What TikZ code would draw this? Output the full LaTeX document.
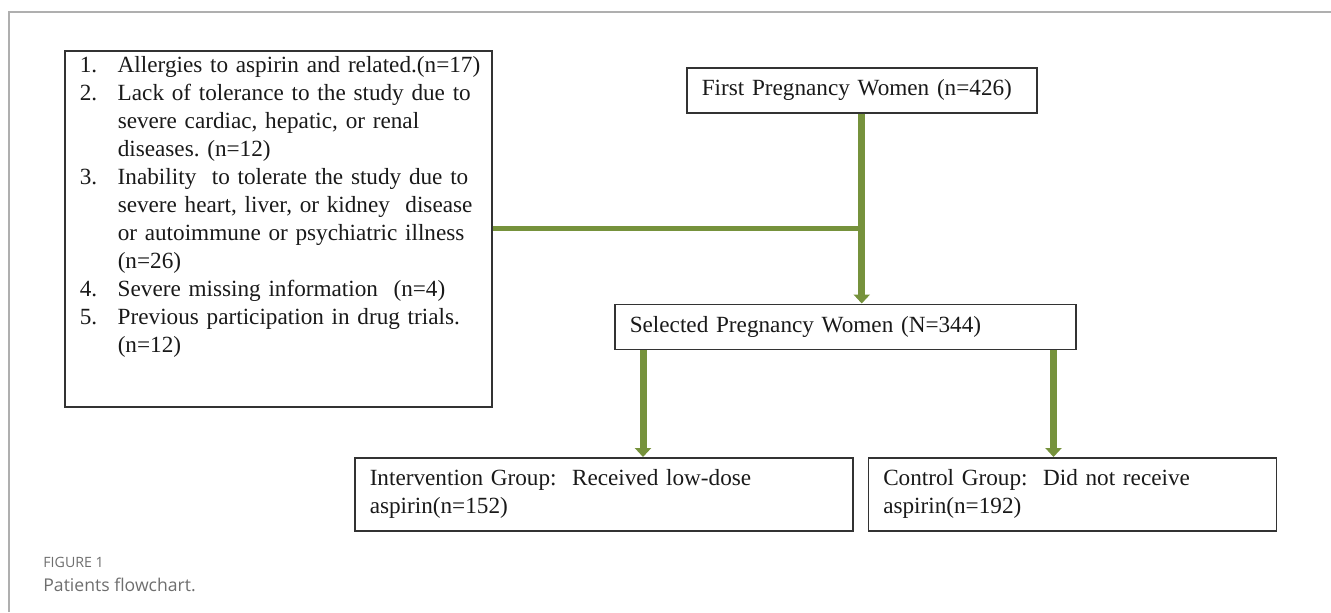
\documentclass[tikz,border=0pt]{standalone}
\usepackage{fontspec}
\setmainfont{Liberation Serif}
\newfontfamily\captionfont{Open Sans}
\usetikzlibrary{arrows.meta, positioning}
\definecolor{arrowgreen}{RGB}{118,146,60}
\definecolor{framegray}{RGB}{175,175,175}
\definecolor{captiongray}{RGB}{110,110,110}

\begin{document}
\begin{tikzpicture}[
    x=0.5pt, y=-0.5pt,
    node distance=7pt,
    block/.style={rectangle, draw=black!80, line width=0.75pt, text=black!90, inner xsep=7.5pt, align=left, minimum height=22.5pt, font=\fontsize{11.6}{14}\selectfont\frenchspacing},
    arrow/.style={-{Triangle[length=4.5pt, width=8pt]}, line width=3.5pt, draw=arrowgreen},
    link/.style={line width=2.5pt, draw=arrowgreen},
    caption/.style={anchor=base west, inner sep=0pt, text=captiongray}
]
    \useasboundingbox (0,0) rectangle (1331,612);
    \draw[framegray, line width=0.75pt] (9,612) -- (9,12) -- (1331,12);

    \node[block, anchor=north west, text width=198.5pt, inner ysep=3pt] (excl) at (64,50) {\makebox[19pt][l]{1.}\mbox{Allergies to aspirin and related.(n=17)}\\
        \makebox[19pt][l]{2.}Lack of tolerance to the study due to\\
        \hspace*{19pt}severe cardiac, hepatic, or renal\\
        \hspace*{19pt}diseases. (n=12)\\
        \makebox[19pt][l]{3.}Inability~ to tolerate the study due to\\
        \hspace*{19pt}severe heart, liver, or kidney~ disease\\
        \hspace*{19pt}or autoimmune or psychiatric illness\\
        \hspace*{19pt}(n=26)\\
        \makebox[19pt][l]{4.}Severe missing information~ (n=4)\\
        \makebox[19pt][l]{5.}Previous participation in drug trials.\\
        \hspace*{19pt}(n=12)\rule[-24pt]{0pt}{24pt}};
    \node[block, anchor=north west, text width=160pt] (first) at (686,67) {First Pregnancy Women (n=426)};
    \node[block, below=95pt of first, xshift=-8.25pt, text width=215.5pt] (sel) {Selected Pregnancy Women (N=344)};
    \node[block, below=53.5pt of sel.south west, anchor=north west, xshift=-130pt, text width=234pt, minimum height=36.5pt] (int) {Intervention Group:~ Received low-dose\\ aspirin(n=152)};
    \node[block, right=7pt of int, text width=189pt, minimum height=36.5pt] (ctrl) {Control Group:~ Did not receive\\ aspirin(n=192)};

    \draw[link] (excl.east) -- (excl.east -| first.south);
    \draw[arrow] (first.south) -- (sel.north -| first.south);
    \draw[arrow] ([xshift=14.5pt]sel.south west) -- ([xshift=14.5pt]sel.south west |- int.north);
    \draw[arrow] ([xshift=-11.5pt]sel.south east) -- ([xshift=-11.5pt]sel.south east |- ctrl.north);

    \node[caption, font=\captionfont\fontsize{7.1}{8}\selectfont] (figno) at (43,567) {FIGURE 1};
    \node[caption, font=\captionfont\fontsize{8.8}{10}\selectfont] (figtitle) at (43,591) {Patients flowchart.};
\end{tikzpicture}
\end{document}
